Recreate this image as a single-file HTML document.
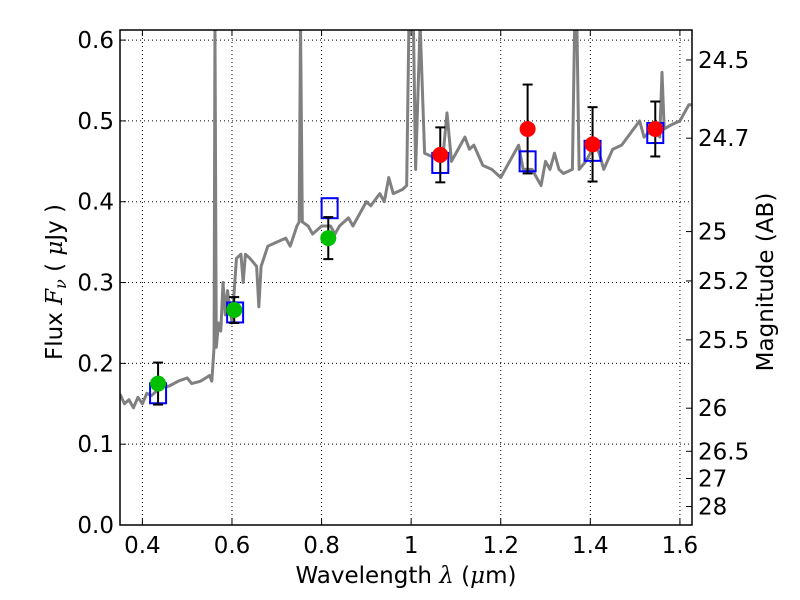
<!DOCTYPE html>
<html><head><meta charset="utf-8"><style>
html,body{margin:0;padding:0;background:#fff;}
svg{display:block;font-family:"DejaVu Sans","Liberation Sans",sans-serif;}
</style></head><body>
<svg id="chart" width="800" height="600" viewBox="0 0 800 600"></svg>
<script>
const xTicks=[0.4,0.6,0.8,1.0,1.2,1.4,1.6];
const xTickLabels=["0.4","0.6","0.8","1","1.2","1.4","1.6"];
const yTicks=[0,0.1,0.2,0.3,0.4,0.5,0.6];
const yTickLabels=["0.0","0.1","0.2","0.3","0.4","0.5","0.6"];
const magTicks=[24.5,24.7,25,25.2,25.5,26,26.5,27,28];
const magLabels=["24.5","24.7","25","25.2","25.5","26","26.5","27","28"];
const specWave=[0.35,0.36,0.37,0.38,0.39,0.40,0.41,0.42,0.44,0.46,0.48,0.50,0.51,0.53,0.55,0.555,0.56,0.562,0.565,0.57,0.575,0.58,0.585,0.59,0.595,0.60,0.61,0.62,0.625,0.63,0.64,0.655,0.66,0.665,0.68,0.70,0.72,0.73,0.745,0.75,0.753,0.757,0.77,0.78,0.80,0.82,0.83,0.84,0.86,0.87,0.88,0.90,0.91,0.93,0.94,0.95,0.96,0.98,0.99,0.995,1.005,1.01,1.02,1.03,1.05,1.07,1.08,1.09,1.10,1.12,1.13,1.14,1.16,1.18,1.20,1.22,1.24,1.25,1.27,1.28,1.29,1.30,1.31,1.32,1.33,1.34,1.36,1.365,1.37,1.375,1.39,1.41,1.42,1.43,1.45,1.47,1.49,1.51,1.52,1.54,1.555,1.56,1.565,1.58,1.60,1.62,1.627];
const specFlux=[0.162,0.150,0.155,0.145,0.158,0.150,0.163,0.160,0.170,0.172,0.178,0.182,0.175,0.178,0.185,0.178,0.22,0.62,0.22,0.25,0.24,0.30,0.26,0.29,0.27,0.25,0.33,0.335,0.30,0.335,0.33,0.32,0.27,0.32,0.345,0.35,0.355,0.345,0.37,0.375,0.62,0.375,0.37,0.36,0.37,0.37,0.36,0.37,0.38,0.37,0.38,0.40,0.395,0.41,0.40,0.43,0.41,0.415,0.42,0.62,0.62,0.44,0.62,0.46,0.455,0.45,0.51,0.45,0.46,0.48,0.465,0.47,0.445,0.44,0.43,0.45,0.47,0.44,0.44,0.43,0.42,0.45,0.44,0.46,0.44,0.435,0.44,0.62,0.62,0.44,0.45,0.47,0.46,0.44,0.465,0.47,0.485,0.50,0.48,0.49,0.48,0.56,0.49,0.495,0.50,0.52,0.52];
const greenWave=[0.435,0.605,0.815];
const greenFlux=[0.175,0.266,0.355];
const greenErr=[0.026,0.016,0.026];
const redWave=[1.065,1.26,1.405,1.545];
const redFlux=[0.458,0.490,0.471,0.490];
const redErr=[0.034,0.055,0.046,0.034];
const modelWave=[0.435,0.607,0.818,1.065,1.26,1.405,1.545];
const modelFlux=[0.163,0.263,0.392,0.448,0.450,0.463,0.485];

const L=120,R=692,T=30,B=525,XMIN=0.35,XMAX=1.627,YMIN=0,YMAX=0.6125;
const sx=v=>L+(v-XMIN)/(XMAX-XMIN)*(R-L);
const sy=v=>B-(v-YMIN)/(YMAX-YMIN)*(B-T);
const NS="http://www.w3.org/2000/svg";
const svg=document.getElementById('chart');
function mk(tag,attrs,parent){const e=document.createElementNS(NS,tag);for(const k in attrs)e.setAttribute(k,attrs[k]);(parent||svg).appendChild(e);return e;}
const defs=mk('defs',{});const cp=mk('clipPath',{id:'clip'},defs);mk('rect',{x:L,y:T,width:R-L,height:B-T},cp);
const FS=23;
const grid=mk('g',{});


xTicks.forEach((v,i)=>{
 mk('line',{x1:sx(v),x2:sx(v),y1:T,y2:B,stroke:'#000','stroke-width':1,'stroke-dasharray':'1,3'},grid);
 mk('line',{x1:sx(v),x2:sx(v),y1:B,y2:B-6,stroke:'#000'},svg);
 mk('line',{x1:sx(v),x2:sx(v),y1:T,y2:T+6,stroke:'#000'},svg);
 const t=mk('text',{x:sx(v),y:B+28,'font-size':FS,'text-anchor':'middle'});
 
 
 t.textContent=xTickLabels[i];
});
yTicks.forEach((v,i)=>{
 mk('line',{x1:L,x2:R,y1:sy(v),y2:sy(v),stroke:'#000','stroke-width':1,'stroke-dasharray':'1,3'},grid);
 mk('line',{x1:L,x2:L+6,y1:sy(v),y2:sy(v),stroke:'#000'},svg);
 const t=mk('text',{x:L-6,y:sy(v)+8,'font-size':FS,'text-anchor':'end'});
 
 
 t.textContent=yTickLabels[i];
});
magTicks.forEach((m,i)=>{
 const f=Math.pow(10,(23.9-m)/2.5);
 mk('line',{x1:R,x2:R-6,y1:sy(f),y2:sy(f),stroke:'#000'},svg);
 const t=mk('text',{x:R+6,y:sy(f)+8,'font-size':FS});
 
 
 t.textContent=magLabels[i];
});
const plot=mk('g',{'clip-path':'url(#clip)'});
const spec=mk('polyline',{points:specWave.map((w,i)=>sx(w)+','+sy(specFlux[i])).join(' '),fill:'none',stroke:'#808080','stroke-width':3,'stroke-linejoin':'round'},plot);


modelWave.forEach((w,i)=>{
 const r=mk('rect',{x:sx(w)-8,y:sy(modelFlux[i])-10,width:16,height:20,fill:'none',stroke:'#0000ff','stroke-width':2},plot);
 
 
});
function pts(ws,fs,es,col,name){ws.forEach((w,i)=>{
 const x=sx(w),y1=sy(fs[i]+es[i]),y2=sy(fs[i]-es[i]);
 mk('line',{x1:x,x2:x,y1:y1,y2:y2,stroke:'#000','stroke-width':2},plot);
 mk('line',{x1:x-5,x2:x+5,y1:y1,y2:y1,stroke:'#000','stroke-width':2},plot);
 mk('line',{x1:x-5,x2:x+5,y1:y2,y2:y2,stroke:'#000','stroke-width':2},plot);
 const c=mk('circle',{cx:x,cy:sy(fs[i]),r:8,fill:col},plot);
 
 
});}
pts(greenWave,greenFlux,greenErr,'#00bf00','optical-flux-point');
pts(redWave,redFlux,redErr,'#ff0000','nir-flux-point');
const frame=mk('rect',{x:L,y:T,width:R-L,height:B-T,fill:'none',stroke:'#000','stroke-width':1.5});


const xt=mk('text',{x:406,y:583,'font-size':FS,'text-anchor':'middle','xml:space':'preserve'});


xt.innerHTML='Wavelength  <tspan font-style="italic" font-family="DejaVu Serif,serif">λ</tspan> (<tspan font-style="italic" font-family="DejaVu Serif,serif">μ</tspan>m)';
const yt=mk('text',{x:0,y:0,'font-size':FS,'text-anchor':'middle','xml:space':'preserve',transform:'translate(62,282) rotate(-90)'});


yt.innerHTML='Flux  <tspan font-style="italic" font-family="DejaVu Serif,serif">F<tspan font-size="16" dy="4">ν</tspan></tspan><tspan dy="-4">  (  </tspan><tspan font-style="italic" font-family="DejaVu Serif,serif">μ</tspan>Jy )';
const rt=mk('text',{x:0,y:0,'font-size':FS,'text-anchor':'middle',transform:'translate(773,282) rotate(-90)'});


rt.textContent='Magnitude (AB)';
</script>
</body></html>
